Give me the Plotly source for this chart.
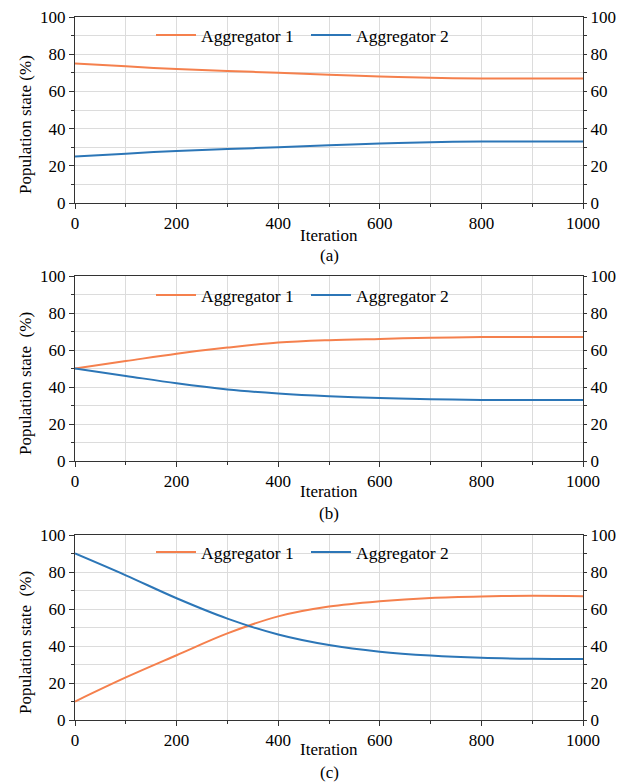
import plotly.graph_objects as go

# ---------------- data ----------------
iterations = [0, 100, 200, 300, 400, 500, 600, 700, 800, 900, 1000]

a_agg1 = [75, 73.5, 72.0, 71.0, 70.0, 69.0, 68.0, 67.3, 67.0, 67.0, 67.0]
a_agg2 = [25, 26.5, 28.0, 29.0, 30.0, 31.0, 32.0, 32.7, 33.0, 33.0, 33.0]

b_agg1 = [50, 54.0, 58.0, 61.3, 64.0, 65.3, 66.0, 66.6, 67.0, 67.0, 67.0]
b_agg2 = [50, 46.0, 42.0, 38.7, 36.5, 35.0, 34.0, 33.4, 33.0, 33.0, 33.0]

c_agg1 = [10, 23.0, 35.0, 46.8, 56.0, 61.3, 64.2, 66.0, 66.8, 67.1, 66.9]
c_agg2 = [90, 78.2, 65.8, 54.8, 46.2, 40.5, 36.9, 34.8, 33.6, 33.1, 33.0]

series_names = ["Aggregator 1", "Aggregator 2"]
panel_labels = ["(a)", "(b)", "(c)"]
y_titles = ["Population state (%)", "Population state  (%)", "Population state  (%)"]
x_title = "Iteration"
x_ticks = [0, 200, 400, 600, 800, 1000]
y_ticks = [0, 20, 40, 60, 80, 100]

# ---------------- style ----------------
W, H = 627, 782
FONT = "Liberation Serif, Times New Roman, Times, serif"
FS = 17
ORANGE = "#F5804D"
BLUE = "#2C76B7"
GRID = "#DCDCDC"
AXC = "#333333"

px_left, px_right = 75, 583
boxes = [(17, 203), (276, 461), (535, 720)]
iter_y = [236, 492, 749]
label_y = [255, 513, 772]
ytitle_y = [125, 384, 643]
legend_y = [35, 295, 552]

def py(v):
    return 1 - v / H

TF = dict(family=FONT, size=FS, color="black")
LF = dict(family=FONT, size=17.5, color="black")

fig = go.Figure()
data = [(a_agg1, a_agg2), (b_agg1, b_agg2), (c_agg1, c_agg2)]
legend_names = ["legend", "legend2", "legend3"]

layout = dict(
    template="none",
    width=W, height=H, autosize=False,
    margin=dict(l=0, r=0, t=0, b=0, pad=0, autoexpand=False),
    paper_bgcolor="white", plot_bgcolor="white",
    font=dict(family=FONT, size=FS, color="black"),
    showlegend=True,
    annotations=[],
)

for i, (s1, s2) in enumerate(data):
    xa = "x" if i == 0 else f"x{i+1}"
    yl_n = 2 * i + 1
    yr_n = 2 * i + 2
    yl = "y" if yl_n == 1 else f"y{yl_n}"
    yr = f"y{yr_n}"
    lg = legend_names[i]
    fig.add_trace(go.Scatter(x=iterations, y=s1, mode="lines", name=series_names[0],
                             line=dict(color=ORANGE, width=2, shape="spline"),
                             xaxis=xa, yaxis=yl, legend=lg))
    fig.add_trace(go.Scatter(x=iterations, y=s2, mode="lines", name=series_names[1],
                             line=dict(color=BLUE, width=2, shape="spline"),
                             xaxis=xa, yaxis=yl, legend=lg))
    # invisible trace so the right-hand axis is drawn
    fig.add_trace(go.Scatter(x=iterations, y=s1, mode="lines", opacity=0,
                             line=dict(width=0.1), showlegend=False, hoverinfo="skip",
                             xaxis=xa, yaxis=yr))

    top, bot = boxes[i]
    ydom = [py(bot), py(top)]
    xkey = "xaxis" if i == 0 else f"xaxis{i+1}"
    ylkey = "yaxis" if yl_n == 1 else f"yaxis{yl_n}"
    yrkey = f"yaxis{yr_n}"

    layout[xkey] = dict(
        domain=[px_left / W, px_right / W], anchor=yl, range=[0, 1000],
        automargin=False,
        tickvals=x_ticks, ticks="outside", ticklen=5, tickcolor=AXC,
        showline=True, linecolor=AXC, linewidth=1, mirror=True,
        showgrid=True, gridcolor=GRID, gridwidth=1, zeroline=False,
        minor=dict(dtick=100, ticks="outside", ticklen=3, tickcolor=AXC,
                   showgrid=True, gridcolor=GRID),
        tickfont=TF,
    )
    common_y = dict(
        range=[0, 100], tickvals=y_ticks, ticks="outside", tickcolor=AXC,
        showline=True, linecolor=AXC, linewidth=1, zeroline=False, automargin=False,
        tickfont=TF,
    )
    layout[ylkey] = dict(domain=ydom, anchor=xa, side="left", ticklen=5,
                         showgrid=True, gridcolor=GRID,
                         minor=dict(dtick=10, ticks="outside", ticklen=3, tickcolor=AXC,
                                    showgrid=True, gridcolor=GRID),
                         **common_y)
    layout[yrkey] = dict(overlaying=yl, anchor=xa, side="right", ticklen=3,
                         showgrid=False,
                         minor=dict(dtick=10, ticks="outside", ticklen=3,
                                    tickcolor=AXC, showgrid=False),
                         **common_y)

    layout[lg] = dict(
        orientation="h", x=151 / W, xanchor="left", y=py(legend_y[i]), yanchor="middle",
        bgcolor="rgba(0,0,0,0)", font=LF,
        itemwidth=40, tracegroupgap=0, entrywidth=100, entrywidthmode="pixels",
    )

    layout["annotations"] += [
        dict(text=x_title, x=(px_left + px_right) / 2 / W, y=py(iter_y[i]),
             xref="paper", yref="paper", showarrow=False, xanchor="center",
             yanchor="middle", font=TF),
        dict(text=panel_labels[i], x=(px_left + px_right) / 2 / W, y=py(label_y[i]),
             xref="paper", yref="paper", showarrow=False, xanchor="center",
             yanchor="middle", font=TF),
        dict(text=y_titles[i], x=25 / W, y=py(ytitle_y[i]), textangle=-90,
             xref="paper", yref="paper", showarrow=False, xanchor="center",
             yanchor="middle", font=TF),
    ]

fig.update_layout(**layout)
fig.write_html("out.html", config={"displayModeBar": False},
               post_script="document.body.style.margin='0px';")
